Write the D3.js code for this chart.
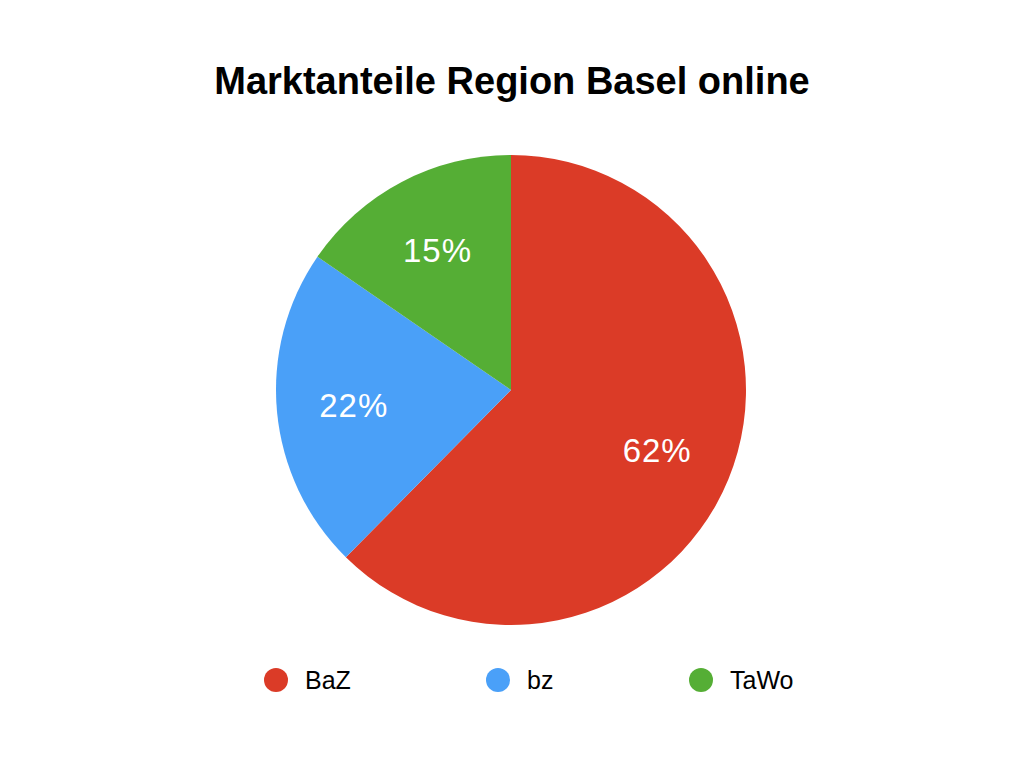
<!DOCTYPE html>
<html>
<head>
<meta charset="utf-8">
<script src="https://cdn.jsdelivr.net/npm/d3@7"></script>
<style>
  html, body { margin: 0; padding: 0; background: #fff; }
  svg { display: block; }
</style>
</head>
<body>
<svg id="chart" width="1024" height="768"></svg>
<script>
const titleText = "Marktanteile Region Basel online";
const categories = ["BaZ", "bz", "TaWo"];
const values = [62.4, 22.2, 15.4];
const labels = ["62%", "22%", "15%"];
const colors = ["#DB3B27", "#4AA0F8", "#55AE35"];

const svg = d3.select("#chart");
const font = "'Liberation Sans', Arial, Helvetica, sans-serif";

svg.append("text")
  .attr("x", 512).attr("y", 94)
  .attr("text-anchor", "middle")
  .attr("font-family", font)
  .attr("font-weight", "bold")
  .attr("font-size", 38)
  .attr("fill", "#000")
  .text(titleText);

const cx = 511, cy = 390, R = 235, labelR = 158;
const data = categories.map((c, i) => ({ cat: c, value: values[i], label: labels[i], color: colors[i] }));

const pie = d3.pie().value(d => d.value).sort(null);
const arc = d3.arc().innerRadius(0).outerRadius(R);
const labelArc = d3.arc().innerRadius(labelR).outerRadius(labelR);

const g = svg.append("g").attr("transform", `translate(${cx},${cy})`);
const arcs = pie(data);

g.selectAll("path").data(arcs).enter().append("path")
  .attr("d", arc)
  .attr("fill", d => d.data.color);

g.selectAll("text.lbl").data(arcs).enter().append("text")
  .attr("class", "lbl")
  .attr("transform", d => `translate(${labelArc.centroid(d)})`)
  .attr("text-anchor", "middle")
  .attr("dy", "0.36em")
  .attr("font-family", font)
  .attr("font-size", 33)
  .attr("letter-spacing", 1)
  .attr("fill", "#fff")
  .text(d => d.data.label);

const legendXs = { "BaZ": 276, "bz": 498, "TaWo": 701 };
const lg = svg.append("g");
const items = lg.selectAll("g").data(data).enter().append("g")
  .attr("transform", d => `translate(${legendXs[d.cat]},680)`);
items.append("circle").attr("r", 12).attr("fill", d => d.color);
items.append("text")
  .attr("x", 29).attr("dy", "0.36em")
  .attr("font-family", font)
  .attr("font-size", 25)
  .attr("fill", "#000")
  .text(d => d.cat);
</script>
</body>
</html>
